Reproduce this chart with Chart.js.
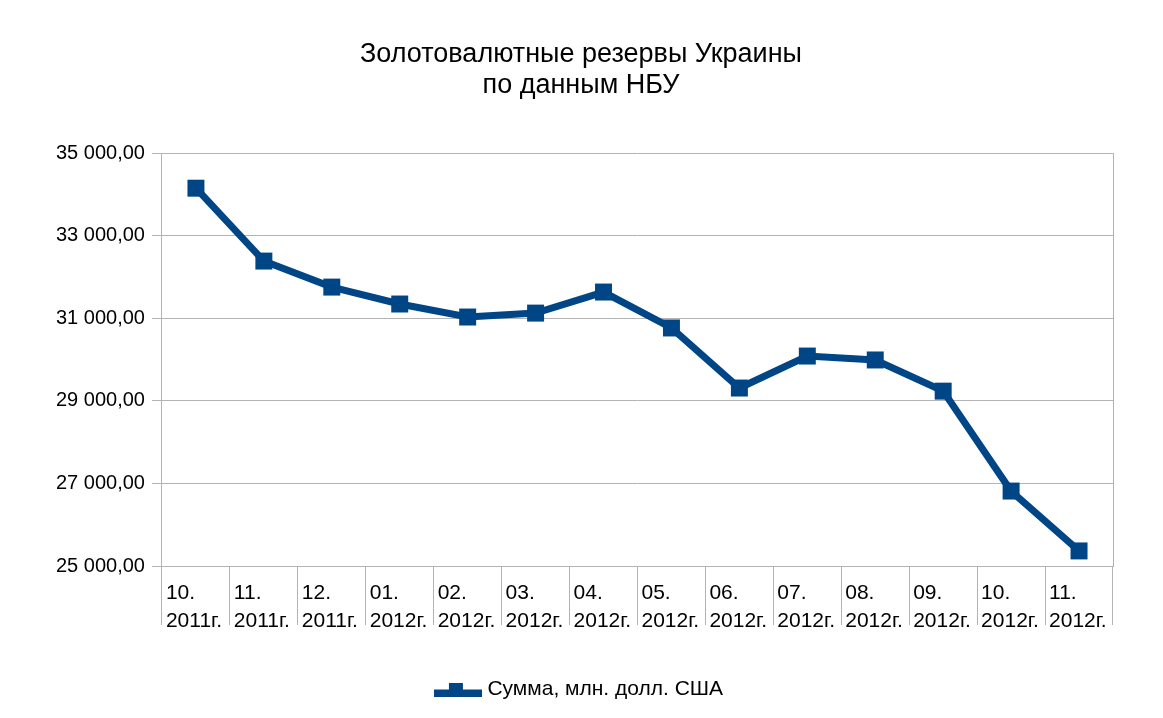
<!DOCTYPE html>
<html>
<head>
<meta charset="utf-8">
<script src="https://cdn.jsdelivr.net/npm/chart.js@4"></script>
<style>
  html, body { margin: 0; padding: 0; background: #fff; }
  #wrap { width: 1163px; height: 718px; position: relative; }
</style>
</head>
<body>
<div id="wrap"><canvas id="myChart"></canvas></div>
<script>
// Данные
const months = [
    ["10.", "2011г."], ["11.", "2011г."], ["12.", "2011г."],
    ["01.", "2012г."], ["02.", "2012г."], ["03.", "2012г."], ["04.", "2012г."],
    ["05.", "2012г."], ["06.", "2012г."], ["07.", "2012г."], ["08.", "2012г."],
    ["09.", "2012г."], ["10.", "2012г."], ["11.", "2012г."]
];
const reserves = [34150, 32385, 31755, 31345, 31030, 31125, 31635,
                  30765, 29310, 30085, 29990, 29235, 26815, 25365];
const seriesName = "Сумма, млн. долл. США";
const titleLines = ["Золотовалютные резервы Украины", "по данным НБУ"];

const blue = "#004586";
const gridColor = "#b3b3b3";

// значок легенды: линия + квадрат
const legendIcon = document.createElement('canvas');
legendIcon.width = 48;
legendIcon.height = 14;
let ic = legendIcon.getContext('2d');
ic.fillStyle = blue;
ic.fillRect(0, 7, 48, 7);
ic.fillRect(15, 0, 14, 14);

const ctx = document.getElementById('myChart').getContext('2d');

let rightBorder = {
    id: 'rightBorder',
    afterDraw: (chart) => {
        const a = chart.chartArea;
        const c = chart.ctx;
        c.save();
        c.strokeStyle = gridColor;
        c.lineWidth = 1;
        c.beginPath();
        c.moveTo(Math.round(a.right) + 0.5, a.top);
        c.lineTo(Math.round(a.right) + 0.5, a.bottom);
        c.stroke();
        c.restore();
    }
};

let config = {
    type: 'line',
    data: {
        labels: months,
        datasets: [{
            label: seriesName,
            data: reserves,
            borderColor: blue,
            backgroundColor: blue,
            borderWidth: 7,
            pointStyle: 'rect',
            pointRadius: 12,
            pointHoverRadius: 12,
            pointBackgroundColor: blue,
            pointBorderColor: blue,
            pointBorderWidth: 0,
            tension: 0
        }]
    },
    options: {
        responsive: true,
        maintainAspectRatio: false,
        animation: false,
        devicePixelRatio: 1,
        layout: { padding: { top: 29, left: 49, right: 50, bottom: 8 } },
        plugins: {
            title: {
                display: true,
                text: titleLines,
                color: "#000",
                font: { family: "Liberation Sans", size: 27, weight: 'normal', lineHeight: 1.15 },
                padding: { top: 10, bottom: 52 }
            },
            legend: {
                position: 'bottom',
                labels: {
                    usePointStyle: true,
                    pointStyle: legendIcon,
                    pointStyleWidth: 38,
                    boxHeight: 14,
                    color: "#000",
                    font: { family: "Liberation Sans", size: 21 },
                    padding: 4
                }
            },
            tooltip: { enabled: false }
        },
        scales: {
            x: {
                offset: true,
                grid: {
                    offset: true,
                    drawOnChartArea: false,
                    color: gridColor,
                    tickLength: 59,
                    tickColor: gridColor
                },
                border: { color: gridColor },
                ticks: {
                    color: "#000",
                    font: { family: "Liberation Sans", size: 21, lineHeight: 1.3 },
                    align: 'start',
                    labelOffset: -30,
                    padding: -45,
                    maxRotation: 0,
                    autoSkip: false
                },
                afterFit: (scale) => { scale.height = 109; }
            },
            y: {
                min: 25000,
                max: 35000,
                grid: {
                    color: gridColor,
                    tickLength: 10,
                    tickColor: gridColor
                },
                border: { color: gridColor },
                ticks: {
                    stepSize: 2000,
                    color: "#000",
                    font: { family: "Liberation Sans", size: 20 },
                    padding: 7,
                    callback: (v) => {
                        let s = String(Math.round(v));
                        return s.replace(/\B(?=(\d{3})+(?!\d))/g, " ") + ",00";
                    }
                }
            }
        }
    },
    plugins: [rightBorder]
};

let graphic = new Chart(ctx, config);
</script>
</body>
</html>
